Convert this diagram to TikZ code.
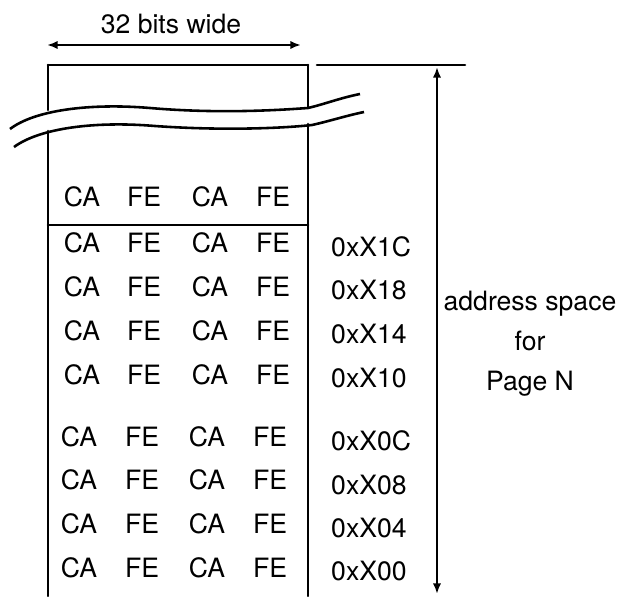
\documentclass[tikz,border=0pt]{standalone}
\usepackage{fontspec}
\setmainfont{TeX Gyre Heros}
\usepackage{tkz-euclide}
\usetikzlibrary{arrows.meta}

\begin{document}
\begin{tikzpicture}[x=0.3mm,y=0.3mm,
   every node/.style={inner sep=0pt,font=\fontsize{22.7}{34}\selectfont},
   mem/.style={line width=2.2pt},
   dim/.style={line width=2pt,{Latex[length=9pt,width=7pt]}-{Latex[length=9pt,width=7pt]}}]
\useasboundingbox (0,0) rectangle (622,-596);
\tkzDefPoints{48/-65/TL,308/-65/TR,48/-110/TLb,308/-107/TRb,48/-131/BLt,308/-124/BRt}
\tkzDefPoints{48/-596/BL,308/-596/BR,48/-225/SL,308/-225/SR}
\tkzDefPoints{47/-45/WL,301/-45/WR,317/-65/HL,465/-65/HR,437/-67/AT,437/-594/AB}
% memory column, broken at the top
\tkzDrawSegments[mem](TLb,TL TL,TR TR,TRb BLt,BL BRt,BR SL,SR)
\draw[mem] (10,-129) .. controls (35,-110) and (90,-103) .. (150,-108)
   .. controls (220,-114) and (280,-110) .. (308,-108)
   .. controls (325,-104) and (340,-98) .. (360,-94);
\draw[mem] (14,-147) .. controls (40,-128) and (95,-121) .. (155,-126)
   .. controls (225,-131) and (285,-128) .. (312,-125)
   .. controls (330,-121) and (345,-116) .. (364,-112);
% dimensions
\tkzDrawSegment[dim](WL,WR)
\node (wide) at (171,-24) {32 bits wide};
\tkzDrawSegment[mem](HL,HR)
\tkzDrawSegment[dim](AB,AT)
\node[align=center] (space) at (530,-344) {address space\\for\\Page N};
% bytes
\foreach \y [count=\r] in {197,243,287,331,375}{
   \foreach \x/\t [count=\c] in {82/CA,144/FE,210/CA,273/FE}
      \node (b\r\c) at (\x,-\y) {\t};
}
\foreach \y [count=\r from 6] in {437,480,524,568}{
   \foreach \x/\t [count=\c] in {79/CA,142/FE,207/CA,270/FE}
      \node (b\r\c) at (\x,-\y) {\t};
}
% addresses
\foreach \y/\a in {247/1C,290/18,334/14,378/10,441/0C,485/08,528/04,571/00}
   \node[anchor=west] (a\a) at (331,-\y) {0xX\a};
\end{tikzpicture}
\end{document}
